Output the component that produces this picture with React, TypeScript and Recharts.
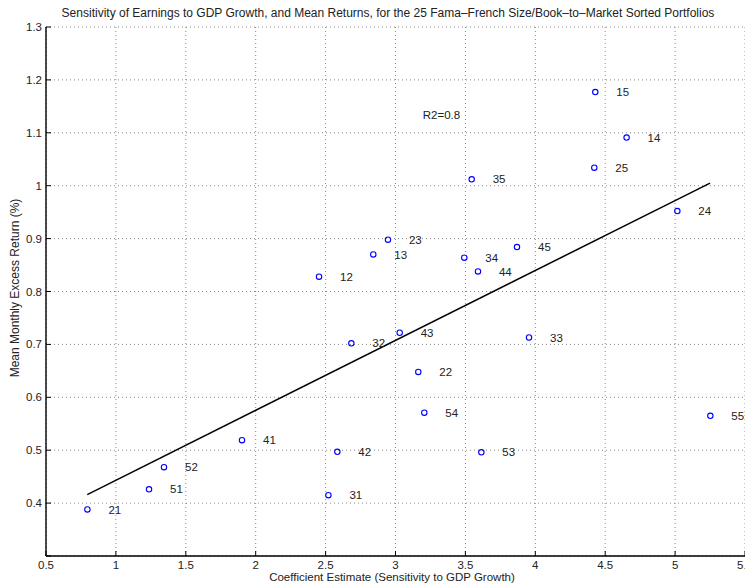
import React from 'react';
import {
  ScatterChart,
  Scatter,
  XAxis,
  YAxis,
  CartesianGrid,
  ReferenceLine,
  ReferenceDot,
} from 'recharts';

const portfolioNames = ['21', '51', '52', '41', '12', '31', '42', '32', '13', '23', '43', '22', '54', '34', '35', '44', '53', '45', '33', '25', '15', '14', '24', '55'];
const sensitivity = [0.796, 1.237, 1.344, 1.902, 2.453, 2.52, 2.584, 2.684, 2.841, 2.946, 3.03, 3.163, 3.206, 3.492, 3.545, 3.59, 3.614, 3.869, 3.955, 4.422, 4.429, 4.653, 5.016, 5.252];
const meanReturn = [0.388, 0.426, 0.468, 0.519, 0.828, 0.415, 0.497, 0.702, 0.87, 0.898, 0.722, 0.648, 0.571, 0.864, 1.012, 0.838, 0.496, 0.884, 0.713, 1.034, 1.177, 1.091, 0.952, 0.565];

const fitX = [0.795, 5.25];
const fitY = [0.416, 1.005];

const xTicks = [0.5, 1, 1.5, 2, 2.5, 3, 3.5, 4, 4.5, 5, 5.5];
const yTicks = [0.3, 0.4, 0.5, 0.6, 0.7, 0.8, 0.9, 1, 1.1, 1.2, 1.3];

const r2Text = 'R2=0.8';
const r2Pos = { x: 3.329, y: 1.133 };

const titleText = 'Sensitivity of Earnings to GDP Growth, and Mean Returns, for the 25 Fama\u2013French Size/Book\u2013to\u2013Market Sorted Portfolios';
const xLabel = 'Coefficient Estimate (Sensitivity to GDP Growth)';
const yLabel = 'Mean Monthly Excess Return (%)';

const data = portfolioNames.map((name, i) => ({ name, x: sensitivity[i], y: meanReturn[i] }));

const FONT = '"Liberation Sans", Arial, Helvetica, sans-serif';
const TXT = '#222';

const PointShape = (props: any) => {
  const { cx, cy, payload } = props;
  if (cx == null || cy == null) return <g />;
  return (
    <g>
      <circle cx={cx} cy={cy} r={2.7} fill="none" stroke="#0000ff" strokeWidth={1.1} />
      <text x={cx + 21} y={cy} dy="0.36em" fontSize={11.5} fill={TXT} fontFamily={FONT}>
        {payload.name}
      </text>
    </g>
  );
};

const fmt = (v: number) => String(v);

export default function App() {
  const W = 745;
  const H = 580;
  const tickStyle = { fontSize: 11.5, fill: TXT, fontFamily: FONT };
  return (
    <div style={{ position: 'relative', width: W, height: H }}>
      <ScatterChart width={W} height={H} margin={{ top: 19, right: 8, bottom: 0, left: 0 }}>
        <CartesianGrid stroke="#888" strokeDasharray="1 3" strokeWidth={1} xAxisId="b" yAxisId="l" />
        <XAxis
          xAxisId="b"
          type="number"
          dataKey="x"
          domain={[0.5, 5.5]}
          ticks={xTicks}
          tickFormatter={fmt}
          allowDataOverflow
          height={32}
          tickSize={-5}
          tickMargin={10}
          tick={tickStyle}
          axisLine={{ stroke: '#000', strokeWidth: 1.4 }}
          tickLine={{ stroke: '#000' }}
        />
        <XAxis
          xAxisId="t"
          orientation="top"
          type="number"
          dataKey="x"
          domain={[0.5, 5.5]}
          ticks={xTicks}
          tickFormatter={() => ''}
          allowDataOverflow
          height={0}
          tickSize={-5}
          axisLine={{ stroke: '#000', strokeWidth: 1.2 }}
          tickLine={{ stroke: '#000' }}
        />
        <YAxis
          yAxisId="l"
          type="number"
          dataKey="y"
          domain={[0.3, 1.3]}
          ticks={yTicks}
          tickFormatter={(v: number) => (v === 0.3 ? '' : fmt(v))}
          allowDataOverflow
          width={38}
          tickSize={-5}
          tickMargin={9}
          tick={tickStyle}
          axisLine={{ stroke: '#000', strokeWidth: 1.4 }}
          tickLine={{ stroke: '#000' }}
        />
        <YAxis
          yAxisId="r"
          orientation="right"
          type="number"
          dataKey="y"
          domain={[0.3, 1.3]}
          ticks={yTicks}
          tickFormatter={() => ''}
          allowDataOverflow
          width={0}
          tickSize={-5}
          axisLine={{ stroke: '#000', strokeWidth: 1.4 }}
          tickLine={{ stroke: '#000' }}
        />
        <ReferenceLine
          xAxisId="b"
          yAxisId="l"
          segment={[{ x: fitX[0], y: fitY[0] }, { x: fitX[1], y: fitY[1] }]}
          stroke="#000"
          strokeWidth={1.5}
        />
        <Scatter
          xAxisId="b"
          yAxisId="l"
          data={data}
          shape={<PointShape />}
          isAnimationActive={false}
        />
        <ReferenceDot
          xAxisId="b"
          yAxisId="l"
          x={r2Pos.x}
          y={r2Pos.y}
          r={0}
          fill="none"
          stroke="none"
          label={{ value: r2Text, position: 'center', fontSize: 11.5, fill: TXT, fontFamily: FONT }}
        />
      </ScatterChart>
      <svg
        width={W + 8}
        height={H + 8}
        style={{ position: 'absolute', left: -8, top: -8, pointerEvents: 'none', overflow: 'visible' }}
      >
        <text x={388} y={13.5} textAnchor="middle" dominantBaseline="middle" fontSize={12} fill={TXT} fontFamily={FONT}>
          {titleText}
        </text>
        <text x={392} y={578} textAnchor="middle" dominantBaseline="middle" fontSize={11.5} fill={TXT} fontFamily={FONT}>
          {xLabel}
        </text>
        <text
          x={16}
          y={288}
          textAnchor="middle"
          dominantBaseline="middle"
          fontSize={12}
          fill={TXT}
          fontFamily={FONT}
          transform="rotate(-90 16 288)"
        >
          {yLabel}
        </text>
      </svg>
    </div>
  );
}
